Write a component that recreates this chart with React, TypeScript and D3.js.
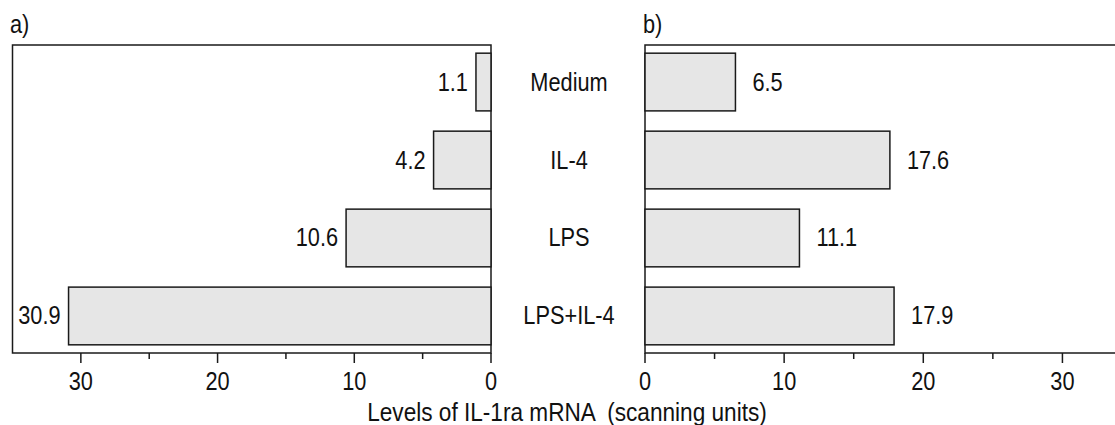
import React from "react";
import * as d3 from "d3";

const categories = ["Medium", "IL-4", "LPS", "LPS+IL-4"];
const valuesA = [1.1, 4.2, 10.6, 30.9];
const valuesB = [6.5, 17.6, 11.1, 17.9];
const majorTicks = [0, 10, 20, 30];
const minorTicks = [5, 15, 25];
const panelLabels = ["a)", "b)"];
const axisTitle = "Levels of IL-1ra mRNA  (scanning units)";

const W = 1115;
const H = 425;
const top = 45;
const bottom = 353;
const SX = 0.87;
const FONT = "'Liberation Sans', Arial, Helvetica, sans-serif";

function T({ x, y, anchor = "start", size = 25, children }: any) {
  return (
    <text
      transform={`translate(${x},${y}) scale(${SX},1)`}
      textAnchor={anchor}
      fontSize={size}
      fontFamily={FONT}
      fill="#111"
      style={{ whiteSpace: "pre" }}
    >
      {children}
    </text>
  );
}

export default function App() {
  const y = d3
    .scaleBand<string>()
    .domain(categories)
    .range([top, bottom])
    .paddingInner(0.26)
    .paddingOuter(0.105);
  const xA = d3.scaleLinear().domain([0, 35]).range([491, 12.5]);
  const xB = d3.scaleLinear().domain([0, 35]).range([645, 1132]);
  const stroke = "#1a1a1a";

  return (
    <svg
      width={W}
      height={H}
      style={{ position: "absolute", left: 0, top: 0, background: "#fff" }}
    >
      <rect x={xA(35)} y={top} width={xA(0) - xA(35)} height={bottom - top} fill="none" stroke={stroke} strokeWidth={1.5} />
      <rect x={xB(0)} y={top} width={xB(35) - xB(0)} height={bottom - top} fill="none" stroke={stroke} strokeWidth={1.5} />

      {categories.map((c, i) => (
        <g key={"a" + c}>
          <rect
            x={xA(valuesA[i])}
            y={y(c)!}
            width={xA(0) - xA(valuesA[i])}
            height={y.bandwidth()}
            fill="#e6e6e6"
            stroke={stroke}
            strokeWidth={1.5}
          />
          <T x={xA(valuesA[i]) - 8} y={y(c)! + y.bandwidth() / 2 + 8.5} anchor="end">
            {valuesA[i].toFixed(1)}
          </T>
        </g>
      ))}

      {categories.map((c, i) => (
        <g key={"b" + c}>
          <rect
            x={xB(0)}
            y={y(c)!}
            width={xB(valuesB[i]) - xB(0)}
            height={y.bandwidth()}
            fill="#e6e6e6"
            stroke={stroke}
            strokeWidth={1.5}
          />
          <T x={xB(valuesB[i]) + 17} y={y(c)! + y.bandwidth() / 2 + 8.5}>
            {valuesB[i].toFixed(1)}
          </T>
        </g>
      ))}

      {categories.map((c) => (
        <T key={"c" + c} x={569} y={y(c)! + y.bandwidth() / 2 + 8.5} anchor="middle">
          {c}
        </T>
      ))}

      {[xA, xB].map((sc, k) => (
        <g key={"ax" + k}>
          {majorTicks.map((t) => (
            <g key={t}>
              <line x1={sc(t)} x2={sc(t)} y1={bottom} y2={bottom + 10} stroke={stroke} strokeWidth={1.5} />
              <T x={sc(t)} y={bottom + 37} anchor="middle">
                {String(t)}
              </T>
            </g>
          ))}
          {minorTicks.map((t) => (
            <line key={"m" + t} x1={sc(t)} x2={sc(t)} y1={bottom} y2={bottom + 6} stroke={stroke} strokeWidth={1.5} />
          ))}
        </g>
      ))}

      <T x={10} y={33}>{panelLabels[0]}</T>
      <T x={643} y={33}>{panelLabels[1]}</T>

      <T x={567} y={421} anchor="middle" size={26}>
        {axisTitle}
      </T>
    </svg>
  );
}
